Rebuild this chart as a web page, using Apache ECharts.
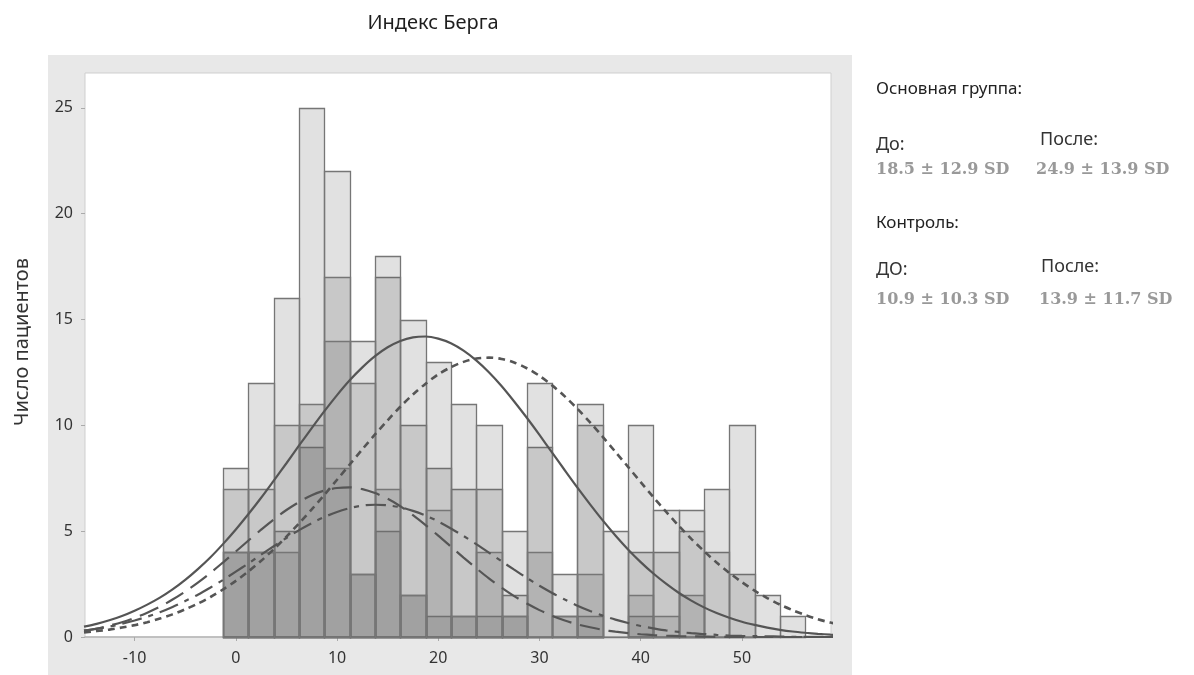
<!DOCTYPE html>
<html>
<head>
<meta charset="utf-8">
<script src="https://cdn.jsdelivr.net/npm/echarts@6/dist/echarts.min.js"></script>
<style>
html,body{margin:0;padding:0;background:#fff;}
#chart{width:1194px;height:675px;}
</style>
</head>
<body>
<div id="chart"></div>
<script>
// Histogram bins (centres, width 2.5)
const binCenters = [0,2.5,5,7.5,10,12.5,15,17.5,20,22.5,25,27.5,30,32.5,35,37.5,40,42.5,45,47.5,50,52.5,55];
const mainBefore    = [8,12,16,25,22,14,17,10,8,7,7,2,9,1,10,0,4,4,5,4,3,0,0];
const mainAfter     = [4,4,5,9,17,12,18,15,13,11,10,5,12,3,11,5,10,6,6,7,10,2,1];
const controlBefore = [7,7,10,11,14,3,5,2,1,1,1,1,0,0,1,0,1,0,0,0,0,0,0];
const controlAfter  = [4,4,4,10,8,3,7,2,6,1,4,1,4,1,3,0,2,1,2,0,0,0,0];

// Fitted curves
const curveX = [-15,-13.75,-12.5,-11.25,-10,-8.75,-7.5,-6.25,-5,-3.75,-2.5,-1.25,0,1.25,2.5,3.75,5,6.25,7.5,8.75,10,11.25,12.5,13.75,15,16.25,17.5,18.75,20,21.25,22.5,23.75,25,26.25,27.5,28.75,30,31.25,32.5,33.75,35,36.25,37.5,38.75,40,41.25,42.5,43.75,45,46.25,47.5,48.75,50,51.25,52.5,53.75,55,56.25,57.5,58.75,60];
const curveMainBefore    = [0.49,0.62,0.79,0.99,1.24,1.53,1.86,2.25,2.70,3.21,3.77,4.40,5.08,5.81,6.58,7.39,8.21,9.05,9.87,10.67,11.43,12.13,12.74,13.27,13.69,13.99,14.16,14.20,14.10,13.88,13.53,13.07,12.51,11.86,11.13,10.36,9.55,8.71,7.88,7.06,6.27,5.51,4.80,4.14,3.54,3.00,2.52,2.09,1.72,1.40,1.13,0.91,0.72,0.57,0.44,0.34,0.26,0.20,0.15,0.11,0.08];
const curveMainAfter     = [0.21,0.28,0.35,0.45,0.56,0.70,0.87,1.07,1.31,1.58,1.89,2.25,2.65,3.10,3.60,4.15,4.74,5.37,6.03,6.72,7.43,8.15,8.87,9.57,10.24,10.88,11.46,11.97,12.41,12.75,13.00,13.16,13.20,13.14,12.97,12.70,12.34,11.89,11.37,10.78,10.14,9.46,8.75,8.04,7.32,6.61,5.92,5.26,4.64,4.06,3.52,3.03,2.59,2.19,1.84,1.53,1.27,1.04,0.84,0.68,0.54];
const curveControlBefore = [0.30,0.40,0.54,0.70,0.90,1.15,1.43,1.77,2.15,2.57,3.03,3.53,4.04,4.56,5.07,5.56,6.00,6.38,6.70,6.92,7.04,7.07,6.99,6.80,6.53,6.18,5.76,5.29,4.79,4.27,3.75,3.25,2.77,2.33,1.93,1.58,1.27,1.00,0.78,0.60,0.46,0.34,0.25,0.18,0.13,0.09,0.06,0.04,0.03,0.02,0.01,0.01,0.01,0,0,0,0,0,0,0,0];
const curveControlAfter  = [0.30,0.38,0.49,0.62,0.78,0.96,1.17,1.42,1.70,2.00,2.34,2.70,3.09,3.48,3.89,4.29,4.68,5.05,5.38,5.67,5.91,6.09,6.21,6.25,6.22,6.13,5.96,5.74,5.46,5.13,4.77,4.39,3.99,3.58,3.18,2.79,2.42,2.08,1.77,1.48,1.23,1.01,0.82,0.66,0.52,0.41,0.31,0.24,0.18,0.14,0.10,0.07,0.05,0.04,0.03,0.02,0.01,0.01,0.01,0.01,0];

const xTicks = [-10,0,10,20,30,40,50];
const yTicks = [0,5,10,15,20,25];

const BIN_W = 2.5;
const chart = echarts.init(document.getElementById('chart'));

function barSeries(name, values) {
  return {
    name: name,
    type: 'custom',
    encode: { x: 0, y: 1 },
    data: binCenters.map((c, i) => [c, values[i]]),
    renderItem: function (params, api) {
      const c = api.value(0), v = api.value(1);
      if (!v) return null;
      const p0 = api.coord([c - BIN_W / 2, v]);
      const p1 = api.coord([c + BIN_W / 2, 0]);
      const x0 = Math.round(p0[0]), y0 = Math.round(p0[1]);
      const x1 = Math.round(p1[0]), y1 = Math.round(p1[1]);
      return {
        type: 'rect',
        shape: { x: x0 + 0.5, y: y0 + 0.5, width: x1 - x0, height: y1 - y0 },
        style: { fill: 'rgba(80,80,80,0.17)', stroke: '#767676', lineWidth: 1.3 }
      };
    },
    z: 2
  };
}

function lineSeries(name, values, dash, width) {
  return {
    name: name,
    type: 'line',
    data: curveX.map((x, i) => [x, values[i]]),
    smooth: 0.3,
    symbol: 'none',
    clip: true,
    lineStyle: { color: '#555', width: width, type: dash },
    z: 5
  };
}

const labelFont = 'Noto Sans';
const valFont = 'bold 16px "DejaVu Serif"';
const headFont = '18px "Noto Sans"';

chart.setOption({
  animation: false,
  backgroundColor: '#fff',
  title: {
    text: 'Индекс Берга',
    left: 428, top: 8, textAlign: 'center',
    textStyle: { fontFamily: labelFont, fontSize: 20, fontWeight: 'normal', color: '#1e1e1e' }
  },
  graphic: [
    { type: 'rect', z: -10, shape: { x: 48, y: 55, width: 804, height: 625 }, style: { fill: '#e8e8e8' } },
    { type: 'text', x: 22, y: 342, rotation: Math.PI / 2, style: { text: 'Число пациентов', font: '20px "Noto Sans"', fill: '#333', align: 'center', verticalAlign: 'middle' } },
    { type: 'text', left: 876, top: 81, style: { text: 'Основная группа:', font: '17px "Noto Sans"', fill: '#222' } },
    { type: 'text', left: 876, top: 136, style: { text: 'До:', font: headFont, fill: '#333' } },
    { type: 'text', left: 1040, top: 131, style: { text: 'После:', font: headFont, fill: '#333' } },
    { type: 'text', left: 876, top: 162, style: { text: '18.5 ± 12.9 SD', font: valFont, fill: '#999' } },
    { type: 'text', left: 1036, top: 162, style: { text: '24.9 ± 13.9 SD', font: valFont, fill: '#999' } },
    { type: 'text', left: 876, top: 215, style: { text: 'Контроль:', font: '17px "Noto Sans"', fill: '#222' } },
    { type: 'text', left: 876, top: 261, style: { text: 'ДО:', font: headFont, fill: '#333' } },
    { type: 'text', left: 1041, top: 258, style: { text: 'После:', font: headFont, fill: '#333' } },
    { type: 'text', left: 876, top: 292, style: { text: '10.9 ± 10.3 SD', font: valFont, fill: '#999' } },
    { type: 'text', left: 1039, top: 292, style: { text: '13.9 ± 11.7 SD', font: valFont, fill: '#999' } }
  ],
  grid: {
    left: 85, right: 363, top: 73, bottom: 38,
    show: true, backgroundColor: '#fff', borderColor: '#cfcfcf', borderWidth: 1
  },
  xAxis: {
    type: 'value', min: -14.9, max: 58.8,
    splitLine: { show: false },
    axisLine: { show: true, onZero: false, lineStyle: { color: '#b5b5b5', width: 1.5 } },
    axisTick: { show: true, length: 4, customValues: xTicks, lineStyle: { color: '#aaa' } },
    axisLabel: { customValues: xTicks, margin: 13, fontFamily: labelFont, fontSize: 16, color: '#333' }
  },
  yAxis: {
    type: 'value', min: 0, max: 26.65,
    splitLine: { show: false },
    axisLine: { show: false, onZero: false },
    axisTick: { show: true, length: 4, customValues: yTicks, lineStyle: { color: '#aaa' } },
    axisLabel: { customValues: yTicks, margin: 12, fontFamily: labelFont, fontSize: 16, color: '#333' }
  },
  series: [
    barSeries('Основная группа до', mainBefore),
    barSeries('Основная группа после', mainAfter),
    barSeries('Контроль до', controlBefore),
    barSeries('Контроль после', controlAfter),
    lineSeries('Кривая: основная до', curveMainBefore, 'solid', 2.2),
    lineSeries('Кривая: основная после', curveMainAfter, [7, 5], 2.6),
    lineSeries('Кривая: контроль до', curveControlBefore, [20, 9], 2.2),
    lineSeries('Кривая: контроль после', curveControlAfter, [20, 7, 5, 7], 2.2)
  ]
});
</script>
</body>
</html>
